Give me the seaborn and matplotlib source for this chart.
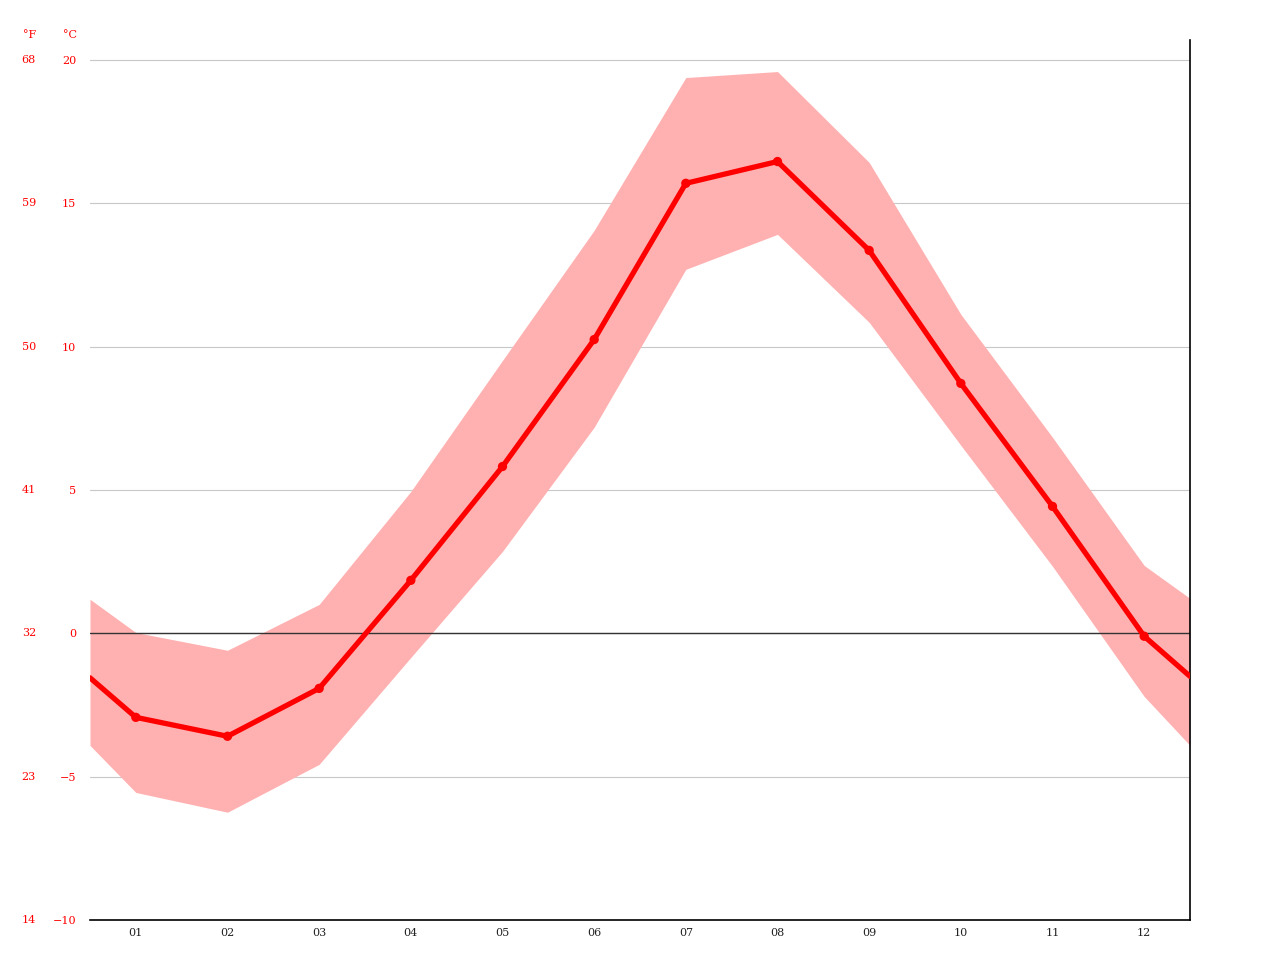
import numpy as np
import pandas as pd
import seaborn as sns
import matplotlib.pyplot as plt
from matplotlib import transforms

# month positions, with the wrapped edges at 0.5 and 12.5
month_pos = [0.5, 1, 2, 3, 4, 5, 6, 7, 8, 9, 10, 11, 12, 12.5]
month_labels = ['01', '02', '03', '04', '05', '06', '07', '08', '09', '10', '11', '12']

temp_mean = [-1.55, -2.93, -3.59, -1.92, 1.85, 5.82, 10.25, 15.70, 16.46, 13.36, 8.72, 4.43, -0.10, -1.5]
temp_max = [1.19, 0.03, -0.59, 1.01, 4.95, 9.52, 14.06, 19.39, 19.60, 16.43, 11.13, 6.84, 2.37, 1.22]
temp_min = [-3.91, -5.55, -6.24, -4.57, -0.84, 2.86, 7.19, 12.70, 13.92, 10.85, 6.56, 2.34, -2.20, -3.91]

c_ticks = [-10, -5, 0, 5, 10, 15, 20]
f_ticks = [14, 23, 32, 41, 50, 59, 68]

df = pd.DataFrame({'month': month_pos, 'mean': temp_mean, 'high': temp_max, 'low': temp_min})

sns.set_style('white')
plt.rcParams['font.family'] = ['DejaVu Serif']

fig = plt.figure(figsize=(12.8, 9.6), dpi=100)
ax = fig.add_axes([90 / 1280, 40 / 960, 1100 / 1280, 880 / 960])

ax.fill_between(df['month'], df['low'], df['high'], color='#ffb1b1', linewidth=0, zorder=1)
for t in c_ticks[1:]:
    ax.axhline(t, color='#c8c8c8', linewidth=0.8, zorder=0)
ax.axhline(0, color='#333333', linewidth=1.0, zorder=2)

sns.lineplot(data=df, x='month', y='mean', color='#ff0000', linewidth=3.8, ax=ax, zorder=3)
inner = df.iloc[1:-1]
sns.scatterplot(data=inner, x='month', y='mean', color='#ff0000', s=45, edgecolor='none', ax=ax, zorder=4)

ax.set_xlim(0.5, 12.5)
ax.set_ylim(-10, 20.7)

ax.set_yticks(c_ticks)
ax.set_yticklabels([str(t).replace('-', '\u2212') for t in c_ticks], color='#ff0000', fontsize=8)
ax.tick_params(axis='y', length=0, pad=10)

ax.set_xticks(range(1, 13))
ax.set_xticklabels(month_labels, fontsize=8, color='#222222')
ax.set_xticks(np.arange(0.5, 13, 1), minor=True)
ax.tick_params(axis='x', which='major', length=0, pad=6)
ax.tick_params(axis='x', which='minor', length=4, width=1, color='black', direction='out')

trans = transforms.blended_transform_factory(fig.transFigure, ax.transData)
for f in f_ticks:
    ax.text(36 / 1280, (f - 32) * 5 / 9, str(f), transform=trans, ha='right', va='center',
            color='#ff0000', fontsize=8)
fig.text(36 / 1280, 1 - 35 / 960, '°F', ha='right', va='center', color='#ff0000', fontsize=8)
fig.text(77 / 1280, 1 - 35 / 960, '°C', ha='right', va='center', color='#ff0000', fontsize=8)

ax.set_xlabel('')
ax.set_ylabel('')
for side in ['top', 'left']:
    ax.spines[side].set_visible(False)
ax.spines['right'].set_color('black')
ax.spines['right'].set_linewidth(1.2)
ax.spines['bottom'].set_color('black')
ax.spines['bottom'].set_linewidth(1.2)

fig.savefig('out.png', dpi=100)
